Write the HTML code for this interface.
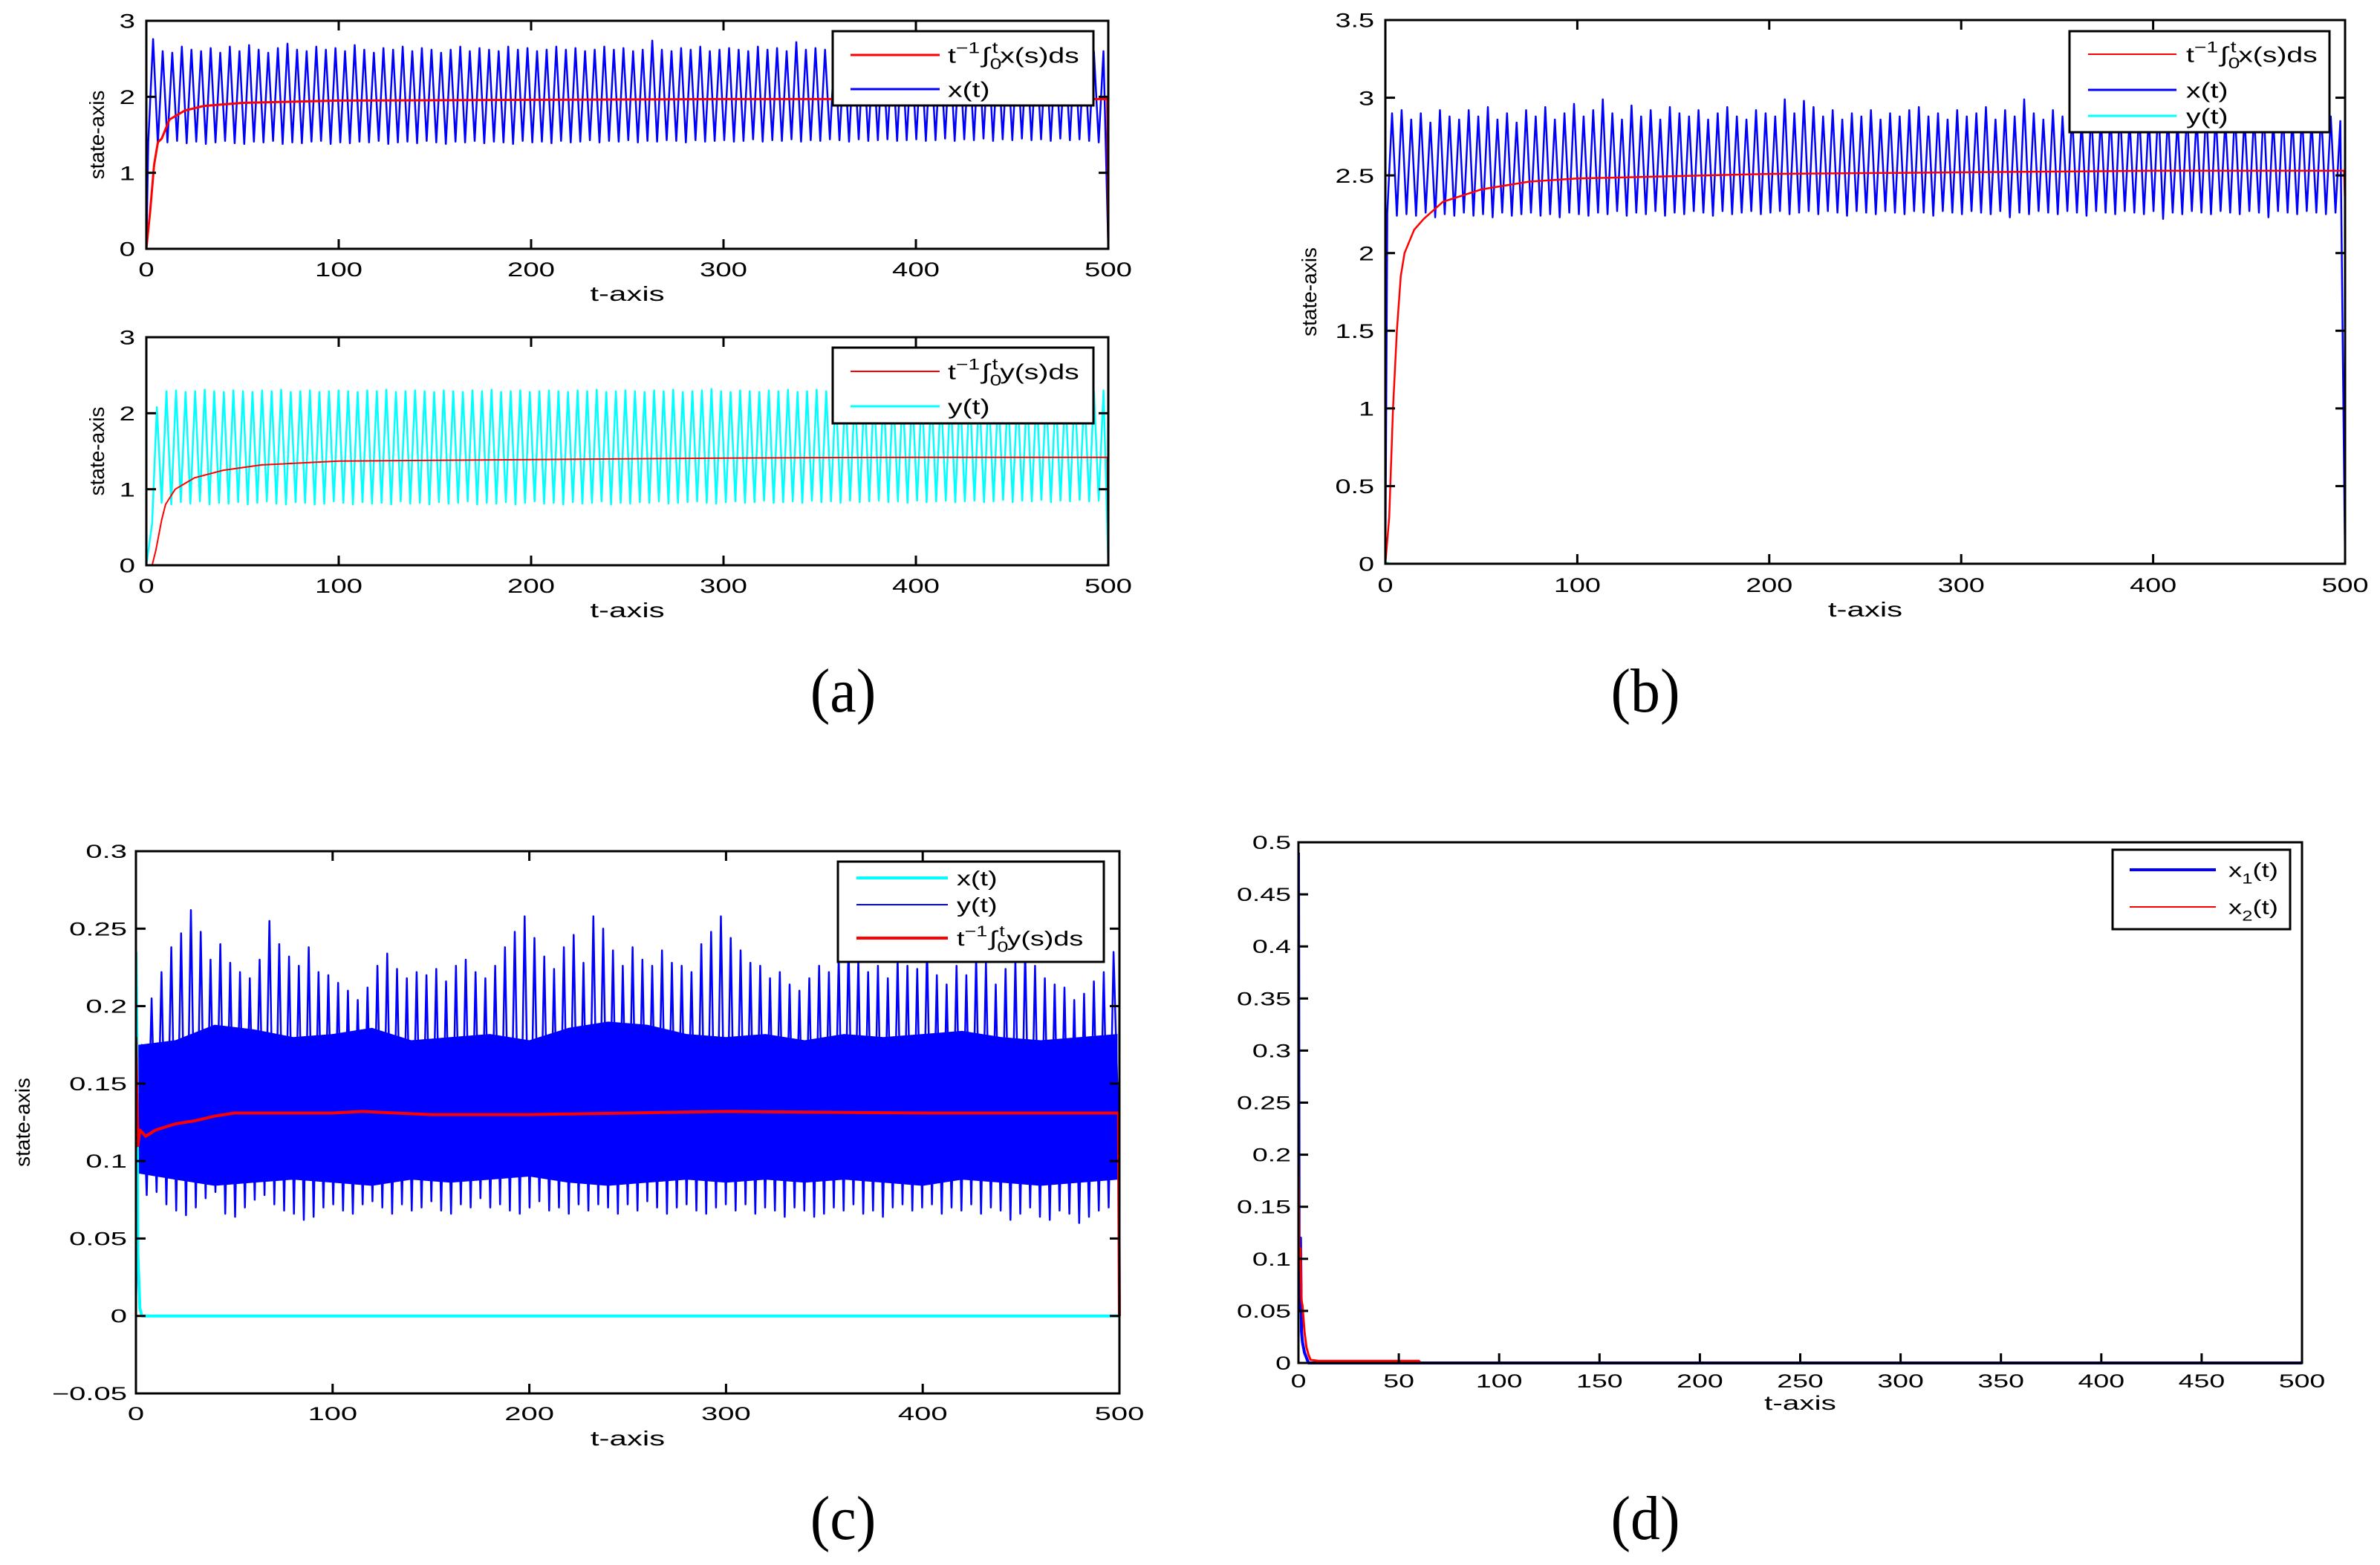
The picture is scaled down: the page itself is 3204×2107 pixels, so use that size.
<!DOCTYPE html>
<html><head><meta charset="utf-8"><style>
html,body{margin:0;padding:0;background:#fff;}
svg{display:block;}
text{font-family:"Liberation Sans",sans-serif;fill:#000;}
text.cap{font-family:"Liberation Serif",serif;}
</style></head><body>
<svg id="fig" xmlns="http://www.w3.org/2000/svg" width="3204" height="2107" viewBox="0 0 3204 2107"></svg>
<script>
// ---------------- DATA ----------------
const a1Peaks=[2.76,2.60,2.58,2.66,2.62,2.60,2.64,2.58,2.66,2.60,2.68,2.62,2.58,2.64,2.70,2.62,2.60,2.66,2.62,2.64,2.60,2.68,2.62,2.58,2.64,2.62,2.66,2.60,2.64,2.62,2.58,2.62,2.66,2.60,2.64,2.62,2.60,2.66,2.62,2.64,2.60,2.62,2.66,2.62,2.64,2.60,2.62,2.66,2.62,2.64,2.60,2.62,2.74,2.62,2.60,2.64,2.62,2.66,2.60,2.62,2.64,2.62,2.60,2.66,2.62,2.64,2.60,2.72,2.62,2.64,2.62,2.66,2.60,2.64,2.62,2.60,2.66,2.62,2.64,2.60,2.62,2.66,2.62,2.64,2.60,2.62,2.66,2.62,2.64,2.60,2.62,2.66,2.62,2.64,2.60,2.62,2.66,2.62,2.60,2.60];
const a1Troughs=[1.40,1.38,1.40,1.42,1.39,1.41,1.38,1.40,1.42,1.39,1.38,1.41,1.40,1.42,1.38,1.40,1.39,1.41,1.42,1.38,1.40,1.39,1.41,1.40,1.42,1.38,1.40,1.41,1.39,1.42,1.40,1.38,1.41,1.40,1.42,1.39,1.41,1.40,1.38,1.42,1.40,1.41,1.39,1.42,1.40,1.41,1.43,1.40,1.42,1.41,1.43,1.40,1.42,1.41,1.43,1.42,1.40,1.43,1.41,1.42,1.43,1.41,1.42,1.44,1.41,1.43,1.42,1.44,1.41,1.43,1.42,1.44,1.43,1.41,1.44,1.42,1.43,1.44,1.42,1.43,1.44,1.42,1.43,1.45,1.42,1.44,1.43,1.45,1.42,1.44,1.43,1.45,1.43,1.44,1.42,1.45,1.43,1.44,1.42,1.40];
const a1MeanT=[0,2,4,6,8,12,20,30,50,100,200,300,400,499.5,500];
const a1MeanV=[0,0.5,1.1,1.4,1.45,1.7,1.82,1.88,1.92,1.95,1.96,1.97,1.97,1.97,0];
const a2Peaks=[2.08,2.29,2.30,2.28,2.29,2.31,2.29,2.28,2.30,2.29,2.28,2.30,2.29,2.31,2.28,2.29,2.30,2.28,2.29,2.30,2.29,2.28,2.30,2.29,2.31,2.28,2.29,2.30,2.29,2.28,2.30,2.29,2.28,2.30,2.29,2.31,2.28,2.29,2.30,2.28,2.29,2.30,2.29,2.28,2.30,2.29,2.31,2.28,2.29,2.30,2.29,2.28,2.30,2.29,2.31,2.28,2.29,2.30,2.32,2.29,2.28,2.30,2.29,2.28,2.30,2.29,2.31,2.28,2.29,2.31,2.29,2.28,2.30,2.29,2.28,2.30,2.29,2.31,2.28,2.29,2.30,2.29,2.28,2.30,2.29,2.31,2.28,2.29,2.30,2.29,2.28,2.30,2.29,2.28,2.30,2.29,2.31,2.28,2.29,2.30];
const a2Troughs=[0.55,0.82,0.80,0.83,0.81,0.84,0.80,0.82,0.81,0.83,0.80,0.82,0.84,0.81,0.80,0.83,0.82,0.80,0.81,0.84,0.82,0.80,0.83,0.81,0.82,0.80,0.84,0.81,0.82,0.80,0.83,0.81,0.82,0.84,0.80,0.82,0.81,0.83,0.80,0.82,0.84,0.81,0.82,0.80,0.83,0.81,0.82,0.84,0.80,0.82,0.81,0.83,0.82,0.84,0.81,0.82,0.83,0.84,0.82,0.81,0.83,0.84,0.82,0.83,0.85,0.82,0.83,0.84,0.82,0.85,0.83,0.84,0.82,0.85,0.83,0.84,0.85,0.83,0.84,0.82,0.85,0.83,0.84,0.85,0.83,0.84,0.85,0.83,0.84,0.86,0.83,0.85,0.84,0.86,0.83,0.85,0.84,0.86,0.84,0.85];
const a2MeanT=[0,3,5,8,10,15,25,40,60,100,200,300,400,499.5,500];
const a2MeanV=[0,0,0.2,0.6,0.8,1.0,1.15,1.25,1.32,1.37,1.39,1.41,1.42,1.42,0];
const bPeaks=[2.90,2.92,2.86,2.90,2.84,2.92,2.88,2.86,2.92,2.88,2.94,2.86,2.90,2.84,2.92,2.88,2.94,2.86,2.90,2.96,2.88,2.92,2.99,2.90,2.86,2.95,2.88,2.92,2.86,2.94,2.90,2.88,2.92,2.86,2.90,2.94,2.88,2.86,2.92,2.90,2.88,2.99,2.90,2.98,2.94,2.88,2.92,2.86,2.90,2.88,2.92,2.86,2.90,2.88,2.92,2.94,2.88,2.90,2.86,2.92,2.88,2.90,2.94,2.86,2.92,2.88,2.99,2.90,2.86,2.92,2.88,2.90,2.86,2.92,2.88,2.90,2.94,2.86,2.92,2.88,2.97,2.90,2.86,2.92,2.88,2.94,2.90,2.86,2.92,2.88,2.90,2.94,2.86,2.92,2.88,2.90,2.86,2.92,2.88,2.85];
const bTroughs=[2.26,2.24,2.25,2.24,2.26,2.23,2.25,2.24,2.26,2.24,2.25,2.23,2.26,2.24,2.25,2.26,2.24,2.25,2.23,2.26,2.25,2.24,2.26,2.25,2.27,2.24,2.26,2.25,2.27,2.24,2.26,2.25,2.27,2.26,2.24,2.27,2.25,2.26,2.27,2.25,2.26,2.27,2.25,2.26,2.27,2.25,2.27,2.26,2.24,2.27,2.26,2.25,2.27,2.26,2.25,2.27,2.26,2.24,2.27,2.26,2.25,2.27,2.26,2.25,2.27,2.23,2.26,2.25,2.27,2.26,2.25,2.27,2.26,2.24,2.27,2.26,2.25,2.27,2.26,2.25,2.27,2.22,2.26,2.25,2.27,2.26,2.25,2.27,2.26,2.25,2.27,2.26,2.23,2.27,2.26,2.25,2.27,2.26,2.25,2.26];
const bMeanT=[0,2,4,6,8,10,15,20,30,50,75,100,200,300,400,499.5,500];
const bMeanV=[0,0.3,1.0,1.5,1.85,2.0,2.15,2.22,2.33,2.41,2.46,2.48,2.51,2.52,2.53,2.53,2.3];
const bYT=[0,2,500];
const bYV=[0.01,0,0];
const cPeaks=[0.175,0.205,0.222,0.238,0.247,0.262,0.248,0.230,0.240,0.228,0.222,0.218,0.230,0.255,0.240,0.232,0.226,0.238,0.222,0.220,0.215,0.210,0.204,0.212,0.226,0.234,0.224,0.218,0.222,0.220,0.224,0.216,0.226,0.230,0.222,0.218,0.226,0.238,0.248,0.258,0.244,0.232,0.224,0.238,0.246,0.228,0.258,0.250,0.236,0.226,0.238,0.230,0.226,0.236,0.228,0.226,0.222,0.240,0.248,0.258,0.244,0.236,0.228,0.226,0.218,0.222,0.214,0.210,0.218,0.226,0.222,0.232,0.240,0.230,0.222,0.226,0.218,0.230,0.226,0.224,0.238,0.220,0.214,0.226,0.220,0.232,0.228,0.214,0.224,0.230,0.236,0.226,0.218,0.214,0.212,0.204,0.208,0.216,0.222,0.235];
const cTroughs=[0.065,0.078,0.080,0.072,0.068,0.065,0.070,0.076,0.080,0.066,0.064,0.070,0.075,0.078,0.072,0.068,0.066,0.062,0.064,0.070,0.072,0.068,0.066,0.072,0.074,0.070,0.066,0.072,0.068,0.070,0.074,0.068,0.066,0.072,0.070,0.076,0.070,0.072,0.068,0.066,0.070,0.074,0.068,0.070,0.066,0.072,0.068,0.072,0.070,0.066,0.072,0.068,0.074,0.070,0.066,0.070,0.072,0.068,0.066,0.070,0.072,0.068,0.072,0.066,0.070,0.068,0.064,0.070,0.068,0.064,0.066,0.070,0.068,0.072,0.066,0.068,0.064,0.070,0.072,0.068,0.070,0.072,0.066,0.070,0.068,0.072,0.066,0.070,0.068,0.062,0.066,0.070,0.064,0.062,0.068,0.066,0.060,0.064,0.068,0.070];
const cBandT=[1,20,40,60,80,100,120,140,160,180,200,220,240,260,280,300,320,340,360,380,400,420,440,460,480,499];
const cBandHi=[0.175,0.178,0.188,0.185,0.180,0.182,0.186,0.178,0.180,0.182,0.178,0.186,0.190,0.188,0.182,0.180,0.182,0.178,0.182,0.180,0.182,0.184,0.180,0.178,0.180,0.182];
const cBandLo=[0.092,0.088,0.084,0.086,0.088,0.086,0.084,0.088,0.086,0.088,0.090,0.086,0.084,0.086,0.088,0.086,0.088,0.086,0.088,0.086,0.084,0.088,0.086,0.084,0.086,0.088];
const cMeanT=[0,0.5,1,2,5,10,20,30,40,50,60,100,115,150,200,300,400,499.5,500];
const cMeanV=[0.18,0.14,0.11,0.12,0.116,0.12,0.124,0.126,0.129,0.131,0.131,0.131,0.132,0.130,0.130,0.132,0.131,0.131,0];
const cXT=[0,0.5,1,2,3,500];
const cXV=[0.235,0.18,0.04,0.005,0,0];
const dX1T=[0,0.3,0.6,1,1.5,2,3,5,500];
const dX1V=[0.49,0.12,0.05,0.12,0.03,0.02,0.01,0,0];
const dX2T=[0,0.4,1,1.5,2,3,4,5,6,10,60,61,500];
const dX2V=[0.2,0.11,0.11,0.06,0.055,0.03,0.015,0.008,0.003,0.002,0.002,0,0];
const tTicks5=[0,100,200,300,400,500];
const tTicks50=[0,50,100,150,200,250,300,350,400,450,500];
const yTicksA=[0,1,2,3];
const yTicksB=[0,0.5,1,1.5,2,2.5,3,3.5];
const yTicksC=[-0.05,0,0.05,0.1,0.15,0.2,0.25,0.3];
const yTicksD=[0,0.05,0.1,0.15,0.2,0.25,0.3,0.35,0.4,0.45,0.5];

// ---------------- DRAWING ----------------
const NS="http://www.w3.org/2000/svg";
const svg=document.getElementById('fig');
function mk(tag,attrs,parent){const e=document.createElementNS(NS,tag);for(const k in attrs)e.setAttribute(k,attrs[k]);(parent||svg).appendChild(e);return e;}
function txt(parent,x,y,str,size,anchor,sx,name){
  const t=mk('text',{transform:`translate(${x},${y}) scale(${sx},1)`,'font-size':size,'text-anchor':anchor},parent);
  t.textContent=str;
  
  
  return t;
}
function panel(id,cfg){
  const g=mk('g',{});
  
  
  cfg.g=g;
  cfg.sx=v=>cfg.L+(v-cfg.x0)/(cfg.x1-cfg.x0)*(cfg.R-cfg.L);
  cfg.sy=v=>cfg.B-(v-cfg.y0)/(cfg.y1-cfg.y0)*(cfg.B-cfg.T);
  const cp=mk('clipPath',{id:'clip'+id},g);
  mk('rect',{x:cfg.L,y:cfg.T-2,width:cfg.R-cfg.L+2,height:cfg.B-cfg.T+4},cp);
  cfg.data=mk('g',{'clip-path':`url(#clip${id})`},g);
  
  
  return cfg;
}
function frame(p,xt,yt,yfmt,fs,fsx,allSides){
  const ax=mk('g',{stroke:'#000','stroke-width':3,fill:'none'},p.g);
  
  
  mk('rect',{x:p.L,y:p.T,width:p.R-p.L,height:p.B-p.T},ax);
  const tl=13;
  xt.forEach(v=>{const x=p.sx(v);
    mk('line',{x1:x,y1:p.B,x2:x,y2:p.B-tl},ax);
    if(allSides)mk('line',{x1:x,y1:p.T,x2:x,y2:p.T+tl},ax);
    txt(p.g,x,p.xlabY,String(v),fs,'middle',fsx,'x-tick-label');
  });
  yt.forEach(v=>{const y=p.sy(v);
    mk('line',{x1:p.L,y1:y,x2:p.L+tl,y2:y},ax);
    if(allSides)mk('line',{x1:p.R,y1:y,x2:p.R-tl,y2:y},ax);
    txt(p.g,p.ylabX,y+fs*0.36,yfmt(v),fs,'end',fsx,'y-tick-label');
  });
}
function pline(p,ts,vs,color,w,name){
  const pts=ts.map((t,i)=>p.sx(t).toFixed(1)+','+p.sy(vs[i]).toFixed(1)).join(' ');
  const e=mk('polyline',{points:pts,fill:'none',stroke:color,'stroke-width':w,'stroke-linejoin':'round'},p.data);
  
  
  return e;
}
function osc(p,t0,period,peaks,troughs,color,w,name,endV){
  const ts=[0],vs=[0];
  peaks.forEach((pk,i)=>{const t=t0+i*period;ts.push(t);vs.push(troughs[i]);ts.push(t+period*0.5);vs.push(pk);});
  ts.push(500);vs.push(endV);
  return pline(p,ts,vs,color,w,name);
}
function legend(p,x,y,w,h,entries,lx1,lx2,tx,fs,fsx){
  const lg=mk('g',{},p.g);
  
  
  mk('rect',{x:x,y:y,width:w,height:h,fill:'#fff',stroke:'#000','stroke-width':3},lg);
  entries.forEach(en=>{
    const row=mk('g',{},lg);
    
    
    mk('line',{x1:lx1,y1:en.y,x2:lx2,y2:en.y,stroke:en.c,'stroke-width':en.w},row);
    const t=mk('text',{transform:`translate(${tx},${en.y+fs*0.36}) scale(${fsx},1)`,'font-size':fs},row);
    
    
    en.parts.forEach(pt=>{const s=mk('tspan',{},t);s.textContent=pt[0];
      if(pt[1])s.setAttribute('dy',pt[1]);if(pt[2])s.setAttribute('font-size',pt[2]);if(pt[3])s.setAttribute('dx',pt[3]);});
  });
}
function intLabel(v,fs){
  const sm=Math.round(fs*0.72);
  return [['t'],['\u22121',-fs*0.45,sm],['\u222B',fs*0.45,fs,2],['0',fs*0.3,sm],['t',-fs*0.75,sm,-sm*0.45],[v+'(s)ds',fs*0.45,fs,2]];
}
function axisLabels(p,xl,xly,yl,ylx,fs,fsx){
  if(xl)txt(p.g,(p.L+p.R)/2,xly,xl,fs,'middle',fsx,'x-axis-title');
  if(yl){const t=mk('text',{transform:`translate(${ylx},${(p.T+p.B)/2}) rotate(-90)`,'font-size':fs,'text-anchor':'middle'},p.g);
    t.textContent=yl;}
}
const fmt=v=>String(v).replace('-','\u2212');

const A1=panel('a1',{L:197,R:1492,T:28,B:335,x0:0,x1:500,y0:0,y1:3,xlabY:372,ylabX:182});
osc(A1,1,4.99,a1Peaks,a1Troughs,'#0000ff',2.5,'series-x-t',0);
pline(A1,a1MeanT,a1MeanV,'#ff0000',3,'series-mean-x');
frame(A1,tTicks5,yTicksA,fmt,27,1.42,true);
axisLabels(A1,'t-axis',405,'state-axis',140,28,1.5);
legend(A1,1121,42,351,100,[
 {y:74,c:'#ff0000',w:3,parts:intLabel('x',29)},
 {y:120,c:'#0000ff',w:3,parts:[['x(t)']]}],1145,1265,1276,29,1.35);

const A2=panel('a2',{L:197,R:1492,T:454,B:761,x0:0,x1:500,y0:0,y1:3,xlabY:798,ylabX:182});
osc(A2,3,4.97,a2Peaks,a2Troughs,'#00ffff',2.5,'series-y-t',0);
pline(A2,a2MeanT,a2MeanV,'#ff0000',2,'series-mean-y');
frame(A2,tTicks5,yTicksA,fmt,27,1.42,true);
axisLabels(A2,'t-axis',831,'state-axis',140,28,1.5);
legend(A2,1121,468,351,102,[
 {y:500,c:'#ff0000',w:2,parts:intLabel('y',29)},
 {y:547,c:'#00ffff',w:3,parts:[['y(t)']]}],1145,1265,1276,29,1.35);

const B=panel('b',{L:1865,R:3157,T:27,B:759,x0:0,x1:500,y0:0,y1:3.5,xlabY:797,ylabX:1850});
osc(B,1,4.99,bPeaks,bTroughs,'#0000ff',2.5,'series-x-t',0);
pline(B,bMeanT,bMeanV,'#ff0000',2.5,'series-mean-x');
pline(B,bYT,bYV,'#00ffff',3,'series-y-t');
frame(B,tTicks5,yTicksB,fmt,27,1.4,true);
axisLabels(B,'t-axis',830,'state-axis',1772,28,1.5);
legend(B,2786,42,350,136,[
 {y:73,c:'#ff0000',w:2,parts:intLabel('x',29)},
 {y:121,c:'#0000ff',w:3,parts:[['x(t)']]},
 {y:156,c:'#00ffff',w:3,parts:[['y(t)']]}],2811,2930,2943,29,1.35);

const C=panel('c',{L:183,R:1507,T:1146,B:1876,x0:0,x1:500,y0:-0.05,y1:0.3,xlabY:1912,ylabX:171});
{
  const top=cBandT.map((t,i)=>C.sx(t).toFixed(1)+','+C.sy(cBandHi[i]).toFixed(1));
  const bot=cBandT.map((t,i)=>C.sx(t).toFixed(1)+','+C.sy(cBandLo[i]).toFixed(1)).reverse();
  const band=mk('polygon',{points:top.concat(bot).join(' '),fill:'#0000ff'},C.data);
  
  
}
osc(C,0.5,4.99,cPeaks,cTroughs,'#0000ff',2.5,'series-y-t',0.1);
pline(C,cXT,cXV,'#00ffff',4,'series-x-t');
pline(C,cMeanT,cMeanV,'#ff0000',4,'series-mean-y');
frame(C,tTicks5,yTicksC,fmt,25,1.6,true);
axisLabels(C,'t-axis',1946,'state-axis',40,28,1.5);
legend(C,1128,1160,358,135,[
 {y:1182,c:'#00ffff',w:4,parts:[['x(t)']]},
 {y:1218,c:'#0000ff',w:2,parts:[['y(t)']]},
 {y:1263,c:'#ff0000',w:4,parts:intLabel('y',28)}],1153,1276,1288,28,1.35);

const D=panel('d',{L:1748,R:3099,T:1134,B:1835,x0:0,x1:500,y0:0,y1:0.5,xlabY:1868,ylabX:1738});
pline(D,dX1T,dX1V,'#0000ff',4,'series-x1-t');
pline(D,dX2T,dX2V,'#ff0000',3,'series-x2-t');
frame(D,tTicks50,yTicksD,fmt,25,1.5,false);
axisLabels(D,'t-axis',1898,null,0,27,1.5);
legend(D,2844,1144,239,107,[
 {y:1171,c:'#0000ff',w:4,parts:[['x'],['1',9,19],['(t)',-9,27]]},
 {y:1221,c:'#ff0000',w:2,parts:[['x'],['2',9,19],['(t)',-9,27]]}],2867,2983,3000,27,1.35);

[['(a)',1135,958],['(b)',2215,958],['(c)',1135,2072],['(d)',2215,2072]].forEach(c=>{
  const t=mk('text',{transform:`translate(${c[1]},${c[2]}) scale(0.95,1)`,'font-size':84,'text-anchor':'middle','class':'cap'});
  t.textContent=c[0];
  
  
});
</script>
</body></html>
